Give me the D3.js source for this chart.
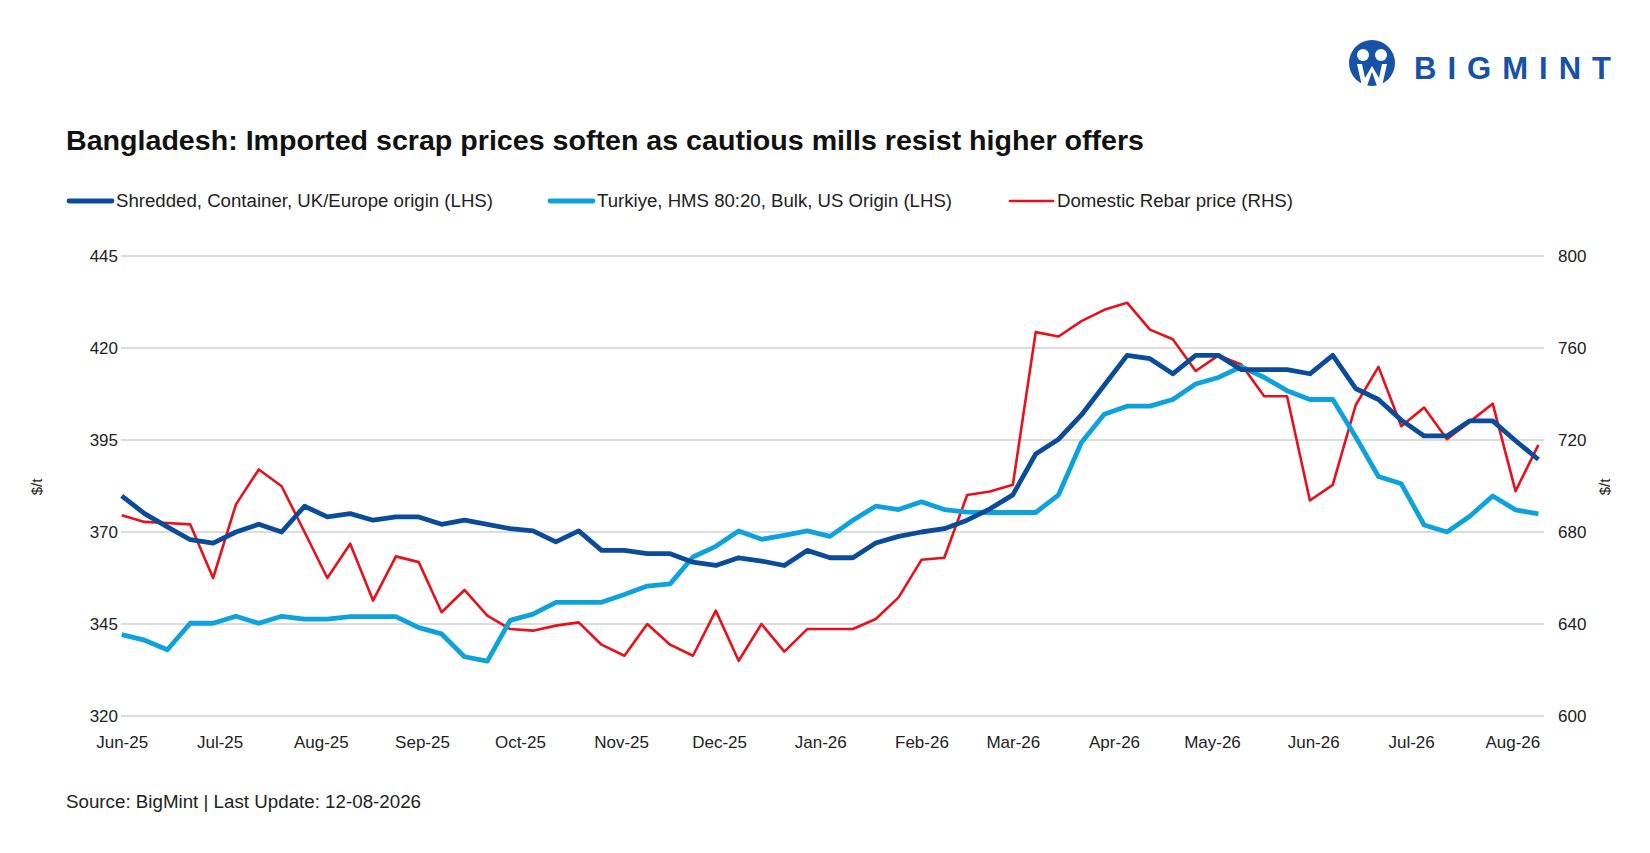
<!DOCTYPE html>
<html><head><meta charset="utf-8">
<script src="https://cdn.jsdelivr.net/npm/d3@7/dist/d3.min.js"></script>
<style>body{margin:0;background:#fff;font-family:"Liberation Sans",Arial,sans-serif}</style>
</head><body><svg id="c" width="1650" height="853"></svg>
<script>
const startDate = "2025-06-01"; // weekly series
const monthLabels = ["Jun-25","Jul-25","Aug-25","Sep-25","Oct-25","Nov-25","Dec-25","Jan-26","Feb-26","Mar-26","Apr-26","May-26","Jun-26","Jul-26","Aug-26"];
const leftTicks = [320,345,370,395,420,445];
const rightTicks = [600,640,680,720,760,800];
const shredded = [379.8,375,371.4,367.9,367,370,372.1,370,377,374.1,375,373.2,374.1,374.1,372.1,373.2,372.1,370.9,370.3,367.3,370.3,365,365,364.1,364.1,361.8,360.9,363,362.1,360.9,365,363,363,367,368.8,370,370.9,373.2,376.3,380.1,391.2,395.2,401.8,409.9,418,417.1,413,418,418,414.1,414.1,414.1,413,418,409,406,400.4,396.1,396.1,400.2,400.2,394.8,389.7];
const turkiye = [342.1,340.6,338,345.2,345.2,347.1,345.2,347.1,346.3,346.3,347,347,347,344,342.3,336.1,334.9,346,347.7,350.9,350.9,350.9,353,355.3,355.9,363.2,366.1,370.3,368,369.1,370.3,368.8,373.2,377,376.1,378.2,376.1,375.4,375.3,375.3,375.3,380.1,394.3,402,404.2,404.2,406,410.2,412,414.9,412,408.4,406,406,395.9,385.1,383.1,371.9,370,374.3,379.8,376,374.9];
const rebar = [687.3,684.4,683.9,683.3,660,692,707.2,699.9,680,660,674.9,650.2,669.4,666.9,645.1,654.8,643.6,637.8,637.1,639.3,640.7,631,626.2,640,631,626.2,645.8,624,640,628,637.8,637.8,637.8,642.2,651.6,667.9,668.8,696.1,697.6,700.5,766.9,765,771.7,776.6,779.7,768,763.8,750,756.8,752.8,739,739,693.7,700.5,735.1,751.8,726,734.1,720.3,728,735.8,697.8,717.9];

const svg = d3.select("#c");
const t0 = d3.timeParse("%Y-%m-%d")(startDate);
const dates = shredded.map((_, i) => d3.timeWeek.offset(t0, i));
const x = d3.scaleTime().domain([t0, dates[dates.length-1]]).range([121.7, 1538.4]);
const yL = d3.scaleLinear().domain([320,445]).range([716,256]);
const yR = d3.scaleLinear().domain([600,800]).range([716,256]);

svg.append("g").selectAll("line").data(leftTicks).join("line")
  .attr("x1",121).attr("x2",1544).attr("y1",d=>yL(d)).attr("y2",d=>yL(d))
  .attr("stroke","#d0d0d0").attr("stroke-width",1.5);

const axL = svg.append("g").attr("transform","translate(121,0)")
  .call(d3.axisLeft(yL).tickValues(leftTicks).tickSize(0).tickPadding(3));
const axR = svg.append("g").attr("transform","translate(1552,0)")
  .call(d3.axisRight(yR).tickValues(rightTicks).tickSize(0).tickPadding(6));
const months = monthLabels.map((m,i)=>d3.timeMonth.offset(t0,i));
const axB = svg.append("g").attr("transform","translate(0,730)")
  .call(d3.axisBottom(x).tickValues(months).tickFormat((d,i)=>monthLabels[i]).tickSize(0).tickPadding(6));
[axL,axR,axB].forEach(a=>{a.select(".domain").remove();a.selectAll("text").attr("font-size",17).attr("fill","#222").attr("font-family","Liberation Sans, Arial, sans-serif");});

svg.append("text").attr("transform","translate(42,487) rotate(-90)").attr("text-anchor","middle").attr("font-size",15).attr("fill","#222").text("$/t");
svg.append("text").attr("transform","translate(1610,487) rotate(-90)").attr("text-anchor","middle").attr("font-size",15).attr("fill","#222").text("$/t");

const lineL = d3.line().x((d,i)=>x(dates[i])).y(d=>yL(d));
const lineR = d3.line().x((d,i)=>x(dates[i])).y(d=>yR(d));
svg.append("path").attr("d",lineR(rebar)).attr("fill","none").attr("stroke","#e8101a").attr("stroke-width",2.6).attr("stroke-linejoin","round");
svg.append("path").attr("d",lineL(turkiye)).attr("fill","none").attr("stroke","#0ea2dc").attr("stroke-width",4.8).attr("stroke-linejoin","round");
svg.append("path").attr("d",lineL(shredded)).attr("fill","none").attr("stroke","#0b4c9a").attr("stroke-width",4.8).attr("stroke-linejoin","round");

svg.append("text").attr("x",66).attr("y",150).attr("font-size",27).attr("font-weight","bold").attr("fill","#111")
  .attr("textLength",1078).attr("lengthAdjust","spacingAndGlyphs")
  .text("Bangladesh: Imported scrap prices soften as cautious mills resist higher offers");

const leg = [
 {t:"Shredded, Container, UK/Europe origin (LHS)",c:"#0b4c9a",w:4.8,x:69,L:377},
 {t:"Turkiye, HMS 80:20, Bulk, US Origin (LHS)",c:"#0ea2dc",w:4.8,x:550,L:355},
 {t:"Domestic Rebar price (RHS)",c:"#e8101a",w:2.6,x:1010,L:236}];
leg.forEach(l=>{
  svg.append("line").attr("x1",l.x).attr("x2",l.x+43).attr("y1",201).attr("y2",201).attr("stroke",l.c).attr("stroke-width",l.w).attr("stroke-linecap","round");
  svg.append("text").attr("x",l.x+47).attr("y",207).attr("font-size",18).attr("fill","#222")
    .attr("textLength",l.L).attr("lengthAdjust","spacingAndGlyphs").text(l.t);
});

svg.append("text").attr("x",66).attr("y",808).attr("font-size",18).attr("fill","#222")
  .attr("textLength",355).attr("lengthAdjust","spacingAndGlyphs").text("Source: BigMint | Last Update: 12-08-2026");

const lg = svg.append("g");
lg.append("circle").attr("cx",1372).attr("cy",63).attr("r",23).attr("fill","#1552a8");
lg.append("circle").attr("cx",1363).attr("cy",55).attr("r",6).attr("fill","#fff");
lg.append("circle").attr("cx",1381).attr("cy",55).attr("r",6).attr("fill","#fff");
lg.append("path").attr("d","M1357,64 L1362,86 L1367,86 L1372,72 L1377,86 L1382,86 L1387,64 L1382,64 L1379,78 L1372,66 L1365,78 L1362,64 Z").attr("fill","#fff");
lg.append("text").attr("x",1414).attr("y",79).attr("font-size",31).attr("font-weight","bold")
  .attr("textLength",197).attr("lengthAdjust","spacing").attr("fill","#1552a8").text("BIGMINT");
</script></body></html>
